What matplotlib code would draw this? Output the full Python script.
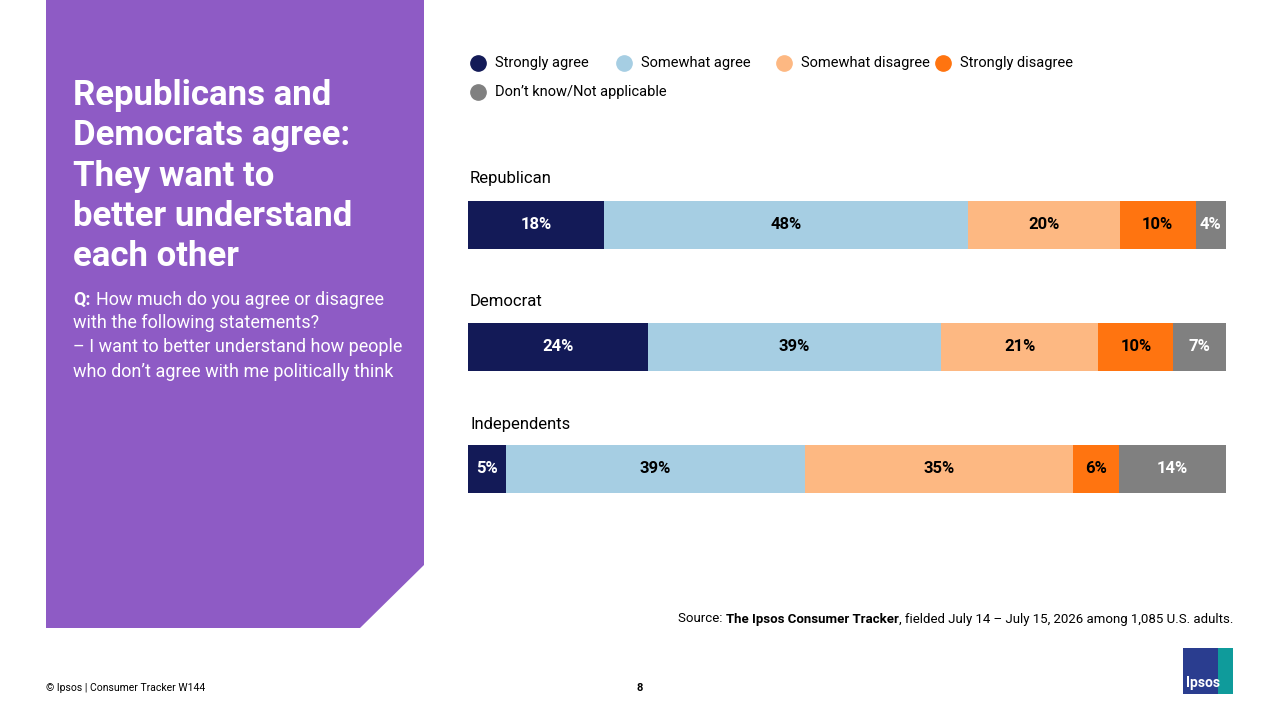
import matplotlib
matplotlib.use("Agg")
import matplotlib.pyplot as plt
from matplotlib.patches import Polygon, Rectangle

groups = ["Republican", "Democrat", "Independents"]
series = ["Strongly agree", "Somewhat agree", "Somewhat disagree", "Strongly disagree", "Don\u2019t know/Not applicable"]
values = [
    [18, 48, 20, 10, 4],
    [24, 39, 21, 10, 7],
    [5, 39, 35, 6, 14],
]
colors = ["#131A57", "#A6CEE3", "#FDB882", "#FF7410", "#808080"]
text_colors = ["white", "black", "black", "black", "white"]

plt.rcParams['font.family'] = ['Roboto', 'DejaVu Sans']
W, H = 1280, 720
fig = plt.figure(figsize=(12.8, 7.2), dpi=100)
bg = fig.add_axes([0, 0, 1, 1])
bg.set_xlim(0, W); bg.set_ylim(H, 0); bg.axis("off")
fig.canvas.draw()
r = fig.canvas.get_renderer()

bg.add_patch(Polygon([(46, 0), (424, 0), (424, 565), (360, 628), (46, 628)], closed=True, color="#8E5BC5", lw=0))
bg.text(73, 79, "Republicans and\nDemocrats agree:\nThey want to\nbetter understand\neach other", color="white",
        fontsize=25, fontweight="bold", va="top", linespacing=1.28)
q = bg.text(73, 300, "Q:", color="white", fontsize=13, fontweight="bold", va="center")
qx = 73 + q.get_window_extent(r).width + 5
bg.text(qx, 300, "How much do you agree or disagree", color="white", fontsize=13, va="center")
bg.text(73, 314, "with the following statements?\n\u2013 I want to better understand how people\nwho don\u2019t agree with me politically think",
        color="white", fontsize=13, va="top", linespacing=1.45)

leg = [(478, 63), (624, 63), (784, 63), (943, 63), (478, 92)]
for (x, y), s, c in zip(leg, series, colors):
    bg.plot(x, y, "o", ms=11, color=c)
    bg.text(x + 17, y, s, fontsize=10.5, va="center")

label_y = [178, 302, 424]
for g, y in zip(groups, label_y):
    bg.text(470, y, g, fontsize=12, va="center")

t1 = bg.text(678, 619, "Source: ", fontsize=9.5, va="center")
x1 = 678 + t1.get_window_extent(r).width
t2 = bg.text(x1, 619, "The Ipsos Consumer Tracker", fontsize=9.5, fontweight="bold", va="center")
x2 = x1 + t2.get_window_extent(r).width
bg.text(x2, 619, ", fielded July 14 \u2013 July 15, 2026 among 1,085 U.S. adults.", fontsize=9.5, va="center")

bg.text(46, 688, "\u00a9 Ipsos | Consumer Tracker W144", fontsize=7.5, va="center")
bg.text(640, 688, "8", fontsize=8, fontweight="bold", ha="center", va="center")
bg.add_patch(Rectangle((1183, 648), 50, 46, color="#0F9B9B", lw=0))
bg.add_patch(Rectangle((1183, 648), 35, 46, color="#2A3D8F", lw=0))
bg.text(1203, 683, "Ipsos", color="white", fontsize=10, fontweight="bold", ha="center", va="center")

ax = fig.add_axes([468 / W, 1 - 530 / H, 758 / W, 366.5 / H])
ax.set_xlim(0, 100); ax.set_ylim(2.5, -0.5); ax.axis("off")
for i, row in enumerate(values):
    tot = sum(row)
    left = 0
    for j, v in enumerate(row):
        w = v * 100 / tot
        ax.barh(i, w, left=left, height=0.393, color=colors[j], lw=0)
        ax.text(left + w / 2, i, f"{v}%", ha="center", va="center", color=text_colors[j],
                fontsize=12, fontweight="bold")
        left += w

fig.savefig("out.png", dpi=100)
